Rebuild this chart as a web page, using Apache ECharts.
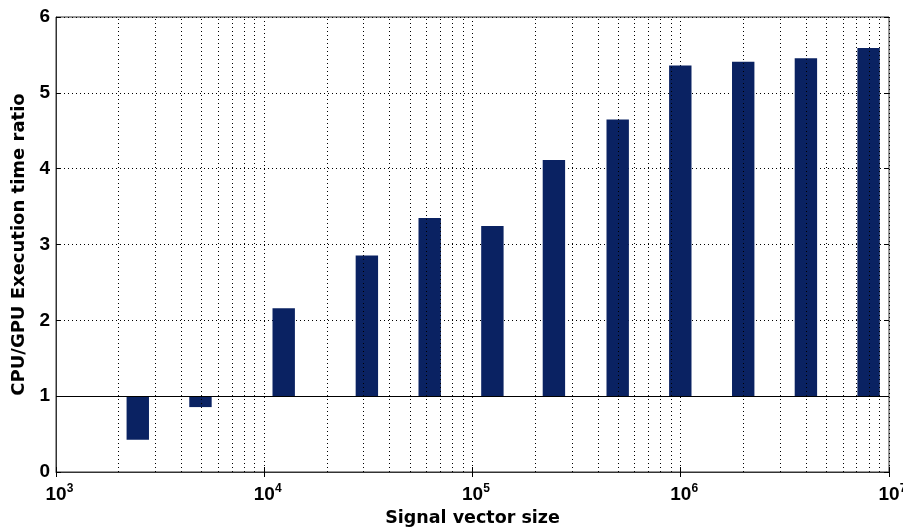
<!DOCTYPE html>
<html>
<head>
<meta charset="utf-8">
<script src="https://cdn.jsdelivr.net/npm/echarts@6/dist/echarts.min.js"></script>
<style>
  html, body { margin: 0; padding: 0; background: #fff; }
  #chart { width: 903px; height: 529px; }
</style>
</head>
<body>
<div id="chart"></div>
<script>
// signal vector sizes (x) and CPU/GPU ratio (y)
var sizes  = [2470, 4940, 12400, 31100, 62300, 124600, 246000, 498000, 995000, 1995000, 3990000, 7980000];
var ratios = [0.425, 0.856, 2.16, 2.854, 3.35, 3.245, 4.115, 4.65, 5.362, 5.41, 5.455, 5.59];
var baseline = 1;

var font = 'Liberation Sans, Arial, sans-serif';
var titleFont = 'DejaVu Sans, sans-serif';

// minor grid positions 2..9 x 10^k
var minorX = [];
for (var k = 3; k < 7; k++) {
  for (var m = 2; m <= 9; m++) minorX.push({ xAxis: m * Math.pow(10, k) });
}

var barData = sizes.map(function (s, i) { return [s, ratios[i]]; });

var chart = echarts.init(document.getElementById('chart'));

var dotted = { color: '#000', width: 1, type: [1, 3] };

var option = {
  animation: false,
  backgroundColor: '#fff',
  grid: {
    left: 56, right: 14, top: 17, bottom: 57,
    outerBoundsMode: 'none',
    show: true, borderColor: '#333', borderWidth: 1
  },
  xAxis: [{
    type: 'log',
    logBase: 10,
    min: 1000,
    max: 10000000,
    position: 'bottom',
    name: 'Signal vector size',
    nameLocation: 'middle',
    nameGap: 31,
    nameTextStyle: { fontFamily: titleFont, fontWeight: 'bold', fontSize: 17.5, color: '#000' },
    axisLine: { lineStyle: { color: '#333', width: 1 } },
    axisTick: { inside: true, length: 5, lineStyle: { color: '#000' } },
    splitLine: { show: true, lineStyle: dotted },
    axisLabel: {
      margin: 11,
      formatter: function (v) {
        var e = Math.round(Math.log10(v));
        return '{s|}{b|10}{e|' + e + '}';
      },
      rich: {
        s: { width: 7 },
        b: { fontFamily: font, fontWeight: 'bold', fontSize: 19, color: '#000' },
        e: { fontFamily: font, fontWeight: 'bold', fontSize: 12, color: '#000', verticalAlign: 'top', padding: [0, 0, 12, 0], width: 7 }
      }
    }
  }, {
    type: 'log',
    logBase: 10,
    min: 1000,
    max: 10000000,
    position: 'top',
    axisLine: { show: false },
    axisTick: { inside: true, length: 5, lineStyle: { color: '#000' } },
    axisLabel: { show: false },
    splitLine: { show: false }
  }],
  yAxis: [{
    type: 'value',
    min: 0,
    max: 6,
    interval: 1,
    name: 'CPU/GPU Execution time ratio',
    nameLocation: 'middle',
    nameGap: 28,
    nameTextStyle: { fontFamily: titleFont, fontWeight: 'bold', fontSize: 18, color: '#000' },
    axisLine: { show: true, lineStyle: { color: '#333', width: 1 } },
    axisTick: { inside: true, length: 5, lineStyle: { color: '#000' } },
    axisLabel: { fontFamily: font, fontWeight: 'bold', fontSize: 19, color: '#000', margin: 6 },
    splitLine: { show: true, lineStyle: dotted }
  }, {
    type: 'value',
    min: 0,
    max: 6,
    interval: 1,
    position: 'right',
    axisLine: { show: false },
    axisTick: { show: true, inside: true, length: 5, lineStyle: { color: '#000' } },
    axisLabel: { show: false },
    splitLine: { show: false }
  }],
  series: [{
    // minor vertical gridlines
    type: 'scatter',
    data: [],
    z: 1,
    silent: true,
    markLine: {
      silent: true,
      symbol: 'none',
      label: { show: false },
      lineStyle: dotted,
      data: minorX
    }
  }, {
    type: 'custom',
    z: 3,
    data: barData,
    encode: { x: 0, y: 1 },
    renderItem: function (params, api) {
      var top = api.coord([api.value(0), api.value(1)]);
      var base = api.coord([api.value(0), baseline]);
      var w = 22.4;
      var y0 = Math.min(top[1], base[1]);
      return {
        type: 'rect',
        shape: { x: top[0] - w / 2, y: y0, width: w, height: Math.abs(base[1] - top[1]) },
        style: { fill: '#0a2262' }
      };
    },
    markLine: {
      silent: true,
      symbol: 'none',
      label: { show: false },
      z: 5,
      lineStyle: { color: '#000', width: 1, type: 'solid' },
      data: [{ yAxis: baseline }]
    }
  }]
};

chart.setOption(option);
</script>
</body>
</html>
